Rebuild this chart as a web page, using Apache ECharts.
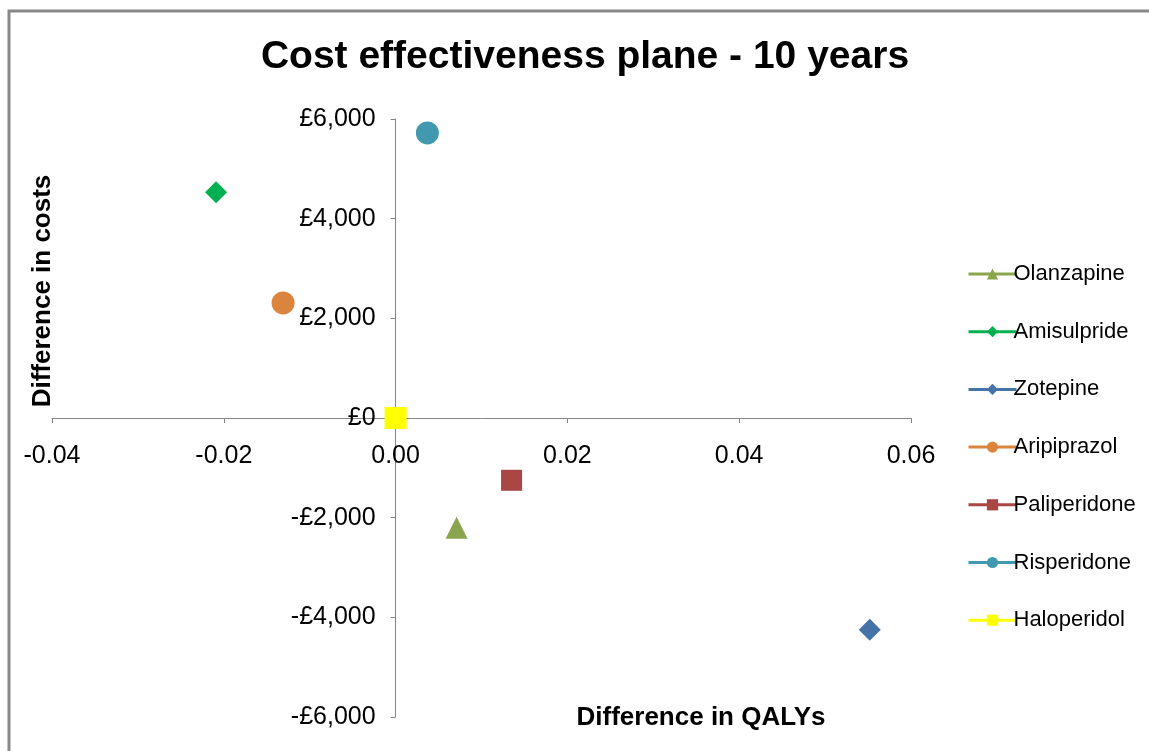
<!DOCTYPE html>
<html>
<head>
<meta charset="utf-8">
<script src="https://cdn.jsdelivr.net/npm/echarts@6/dist/echarts.min.js"></script>
<style>
  html, body { margin: 0; padding: 0; background: #fff; }
  #chart { width: 1149px; height: 751px; }
</style>
</head>
<body>
<div id="chart"></div>
<script>
// drugs, in legend order
const drugs = ["Olanzapine", "Amisulpride", "Zotepine", "Aripiprazol", "Paliperidone", "Risperidone", "Haloperidol"];
// difference in QALYs vs haloperidol
const qalyDiff = [0.0071, -0.0209, 0.0552, -0.0131, 0.0135, 0.0037, 0.0];
// difference in costs (£)
const costDiff = [-2200, 4530, -4250, 2310, -1250, 5720, 0];
// axis ticks: min, max, step
const xTicks = [-0.04, 0.06, 0.02];
const yTicks = [-6000, 6000, 2000];

const colors = ["#89A54E", "#00B050", "#4572A7", "#DB843D", "#AA4643", "#4198AF", "#FFFF00"];
const symbols = ["triangle", "diamond", "diamond", "circle", "rect", "circle", "rect"];
const sizes = [22, 22, 22, 23, 21, 23, 22];

const chart = echarts.init(document.getElementById("chart"));
const font = "Liberation Sans, Arial, sans-serif";

// plot box
const gLeft = 52, gRight = 238, gTop = 119, gBottom = 34;
const gW = 1149 - gLeft - gRight, gH = 751 - gTop - gBottom;
// where the axes cross (value 0), measured from the default axis position
const xOffset = -gH * (0 - yTicks[0]) / (yTicks[1] - yTicks[0]);
const yOffset = -gW * (0 - xTicks[0]) / (xTicks[1] - xTicks[0]);

function money(v) {
    if (v === 0) return "£0";
    return (v < 0 ? "-" : "") + "£" + Math.abs(v).toLocaleString("en-GB");
}

const series = drugs.map(function (name, i) {
    return {
        name: name,
        type: "line",
        data: [[qalyDiff[i], costDiff[i]]],
        symbol: symbols[i],
        symbolSize: sizes[i],
        showSymbol: true,
        itemStyle: { color: colors[i] },
        lineStyle: { color: colors[i], width: 3 },
        emphasis: { disabled: true },
        z: 3
    };
});

chart.setOption({
    animation: false,
    backgroundColor: "#fff",
    title: {
        text: "Cost effectiveness plane - 10 years",
        left: 580,
        top: 33,
        textAlign: "center",
        textStyle: { fontFamily: font, fontSize: 39, fontWeight: "bold", color: "#000" }
    },
    grid: { left: gLeft, right: gRight, top: gTop, bottom: gBottom, containLabel: false, outerBoundsMode: "none" },
    legend: {
        orient: "vertical",
        left: 962,
        top: 258,
        itemWidth: 48,
        itemHeight: 14,
        itemGap: 35.7,
        lineStyle: { width: 3 },
        textStyle: { fontFamily: font, fontSize: 22, color: "#000", padding: [0, 0, 0, -8] },
        data: drugs
    },
    xAxis: {
        type: "value",
        min: xTicks[0],
        max: xTicks[1],
        interval: xTicks[2],
        offset: xOffset,
        splitLine: { show: false },
        axisLine: { onZero: false, lineStyle: { color: "#868686", width: 1 } },
        axisTick: { show: true, length: 5, lineStyle: { color: "#868686" } },
        axisLabel: {
            margin: 26,
            fontFamily: font,
            fontSize: 25,
            color: "#000",
            formatter: function (v) { return Math.abs(v) < 1e-9 ? "0.00" : v.toFixed(2); }
        }
    },
    yAxis: {
        type: "value",
        min: yTicks[0],
        max: yTicks[1],
        interval: yTicks[2],
        offset: yOffset,
        splitLine: { show: false },
        axisLine: { onZero: false, lineStyle: { color: "#868686", width: 1 } },
        axisTick: { show: true, length: 5, lineStyle: { color: "#868686" } },
        axisLabel: {
            margin: 20,
            fontFamily: font,
            fontSize: 25,
            color: "#000",
            formatter: money
        }
    },
    graphic: [
        {
            type: "rect",
            shape: { x: 9, y: 11, width: 1200, height: 800 },
            style: { fill: "none", stroke: "#888", lineWidth: 3 },
            silent: true
        },
        {
            type: "text",
            x: 701,
            y: 718,
            style: {
                text: "Difference in QALYs",
                fontFamily: font, fontSize: 26, fontWeight: "bold", fill: "#000",
                align: "center", verticalAlign: "middle"
            }
        },
        {
            type: "text",
            x: 43,
            y: 291,
            rotation: Math.PI / 2,
            style: {
                text: "Difference in costs",
                fontFamily: font, fontSize: 26, fontWeight: "bold", fill: "#000",
                align: "center", verticalAlign: "middle"
            }
        }
    ],
    series: series
});

window.onresize = function () {
    chart.resize();
};
</script>
</body>
</html>
